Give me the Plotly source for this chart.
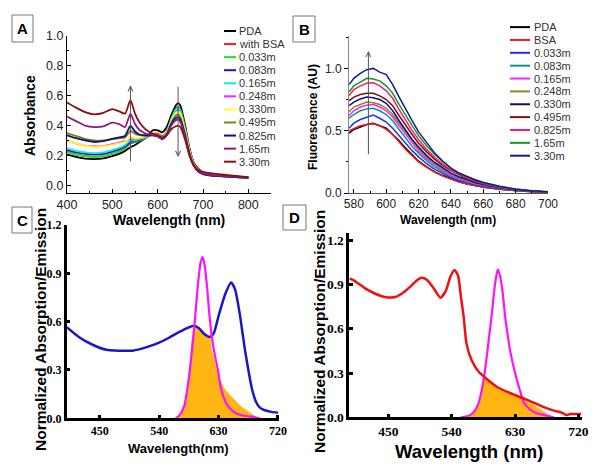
import plotly.graph_objects as go

W, H = 600, 466
SANS = "Liberation Sans, Arial, sans-serif"
SERIF = "Liberation Serif, Times New Roman, serif"

# ---------------- panel A : absorbance ----------------
wl_a = [400, 420, 440, 460, 480, 500, 515, 528, 540, 550, 560, 575, 590, 600,
        610, 620, 630, 640, 645, 650, 660, 670, 680, 690, 700, 720, 750, 800]
abs_pda = [0.205, 0.19, 0.178, 0.175, 0.18, 0.195, 0.21, 0.23, 0.255, 0.27, 0.29, 0.32, 0.37, 0.368,
           0.355, 0.39, 0.47, 0.535, 0.55, 0.535, 0.41, 0.25, 0.15, 0.11, 0.085, 0.07, 0.063, 0.053]
abs_bsa = [0.225, 0.205, 0.195, 0.19, 0.195, 0.21, 0.225, 0.245, 0.28, 0.29, 0.30, 0.32, 0.345, 0.345,
           0.33, 0.36, 0.44, 0.51, 0.525, 0.51, 0.39, 0.24, 0.145, 0.105, 0.082, 0.068, 0.062, 0.052]
abs_0033 = [0.22, 0.205, 0.195, 0.19, 0.195, 0.21, 0.225, 0.25, 0.285, 0.29, 0.30, 0.32, 0.34, 0.34,
            0.325, 0.355, 0.44, 0.50, 0.51, 0.50, 0.38, 0.235, 0.14, 0.10, 0.08, 0.066, 0.06, 0.05]
abs_0083 = [0.235, 0.22, 0.21, 0.205, 0.21, 0.225, 0.24, 0.26, 0.29, 0.295, 0.305, 0.325, 0.34, 0.335,
            0.32, 0.35, 0.43, 0.49, 0.50, 0.49, 0.37, 0.225, 0.135, 0.095, 0.078, 0.065, 0.06, 0.05]
abs_0165 = [0.245, 0.23, 0.22, 0.215, 0.22, 0.235, 0.25, 0.27, 0.30, 0.30, 0.31, 0.325, 0.34, 0.335,
            0.32, 0.355, 0.445, 0.505, 0.516, 0.50, 0.38, 0.235, 0.14, 0.10, 0.08, 0.066, 0.06, 0.05]
abs_0248 = [0.30, 0.28, 0.265, 0.26, 0.262, 0.275, 0.285, 0.295, 0.31, 0.31, 0.315, 0.325, 0.34, 0.335,
            0.315, 0.345, 0.42, 0.465, 0.475, 0.465, 0.36, 0.225, 0.135, 0.095, 0.078, 0.066, 0.06, 0.05]
abs_0330 = [0.30, 0.28, 0.265, 0.255, 0.26, 0.27, 0.28, 0.29, 0.32, 0.315, 0.318, 0.328, 0.34, 0.335,
            0.318, 0.35, 0.43, 0.485, 0.495, 0.48, 0.37, 0.23, 0.14, 0.098, 0.08, 0.067, 0.06, 0.05]
abs_0495 = [0.35, 0.33, 0.31, 0.30, 0.30, 0.31, 0.315, 0.32, 0.365, 0.345, 0.335, 0.33, 0.335, 0.33,
            0.315, 0.345, 0.42, 0.465, 0.47, 0.455, 0.35, 0.22, 0.135, 0.095, 0.078, 0.066, 0.06, 0.05]
abs_0825 = [0.335, 0.315, 0.30, 0.29, 0.295, 0.31, 0.32, 0.33, 0.40, 0.36, 0.34, 0.335, 0.335, 0.33,
            0.31, 0.34, 0.41, 0.45, 0.455, 0.44, 0.34, 0.21, 0.13, 0.09, 0.075, 0.064, 0.058, 0.05]
abs_165 = [0.46, 0.43, 0.40, 0.39, 0.395, 0.42, 0.41, 0.39, 0.48, 0.41, 0.37, 0.345, 0.335, 0.325,
           0.31, 0.335, 0.40, 0.435, 0.44, 0.425, 0.33, 0.21, 0.13, 0.092, 0.078, 0.068, 0.062, 0.052]
abs_330 = [0.555, 0.52, 0.49, 0.475, 0.485, 0.51, 0.495, 0.48, 0.57, 0.48, 0.42, 0.37, 0.345, 0.335,
           0.32, 0.335, 0.375, 0.395, 0.40, 0.39, 0.31, 0.20, 0.13, 0.10, 0.09, 0.08, 0.07, 0.055]

abs_names = ["PDA", "with BSA", "0.033m", "0.083m", "0.165m", "0.248m", "0.330m",
             "0.495m", "0.825m", "1.65m", "3.30m"]
abs_colors = ["#000000", "#ee1c1c", "#22e022", "#1515c8", "#00f0f0", "#ff20ff", "#ffff20",
              "#808010", "#10107a", "#8a1a8a", "#8b1010"]
abs_series = [abs_pda, abs_bsa, abs_0033, abs_0083, abs_0165, abs_0248, abs_0330,
              abs_0495, abs_0825, abs_165, abs_330]

# ---------------- panel B : fluorescence ----------------
wl_b = [577, 580, 584, 588, 592, 596, 600, 604, 608, 612, 616, 620, 625, 630, 635, 640,
        645, 650, 655, 660, 670, 680, 690, 700]
fl_pda = [0.48, 0.51, 0.53, 0.55, 0.56, 0.54, 0.52, 0.47, 0.42, 0.36, 0.305, 0.255, 0.21, 0.17,
          0.14, 0.112, 0.09, 0.073, 0.06, 0.048, 0.03, 0.018, 0.01, 0.006]
fl_bsa = [0.50, 0.52, 0.54, 0.55, 0.555, 0.54, 0.51, 0.47, 0.41, 0.35, 0.30, 0.25, 0.205, 0.165,
          0.135, 0.11, 0.088, 0.072, 0.058, 0.047, 0.03, 0.018, 0.01, 0.006]
fl_0033 = [0.52, 0.56, 0.59, 0.61, 0.625, 0.60, 0.57, 0.52, 0.46, 0.40, 0.34, 0.29, 0.235, 0.19,
           0.155, 0.125, 0.10, 0.082, 0.066, 0.053, 0.033, 0.02, 0.011, 0.006]
fl_0083 = [0.60, 0.63, 0.66, 0.675, 0.68, 0.66, 0.63, 0.58, 0.51, 0.44, 0.375, 0.32, 0.26, 0.21,
           0.17, 0.138, 0.112, 0.09, 0.073, 0.059, 0.036, 0.022, 0.012, 0.007]
fl_0165 = [0.62, 0.66, 0.69, 0.705, 0.71, 0.69, 0.66, 0.61, 0.54, 0.47, 0.40, 0.34, 0.275, 0.225,
           0.18, 0.145, 0.118, 0.095, 0.077, 0.062, 0.038, 0.023, 0.013, 0.007]
fl_0248 = [0.65, 0.69, 0.71, 0.73, 0.725, 0.71, 0.68, 0.63, 0.56, 0.49, 0.42, 0.36, 0.29, 0.235,
           0.19, 0.155, 0.125, 0.10, 0.08, 0.065, 0.04, 0.024, 0.013, 0.008]
fl_0330 = [0.70, 0.73, 0.755, 0.77, 0.765, 0.75, 0.72, 0.66, 0.58, 0.50, 0.43, 0.37, 0.30, 0.245,
           0.20, 0.16, 0.13, 0.105, 0.085, 0.068, 0.042, 0.025, 0.014, 0.008]
fl_0495 = [0.74, 0.77, 0.79, 0.80, 0.80, 0.78, 0.75, 0.70, 0.62, 0.54, 0.47, 0.40, 0.33, 0.27,
           0.22, 0.18, 0.145, 0.115, 0.092, 0.074, 0.046, 0.027, 0.015, 0.009]
fl_0825 = [0.78, 0.83, 0.86, 0.88, 0.885, 0.86, 0.82, 0.76, 0.67, 0.58, 0.50, 0.43, 0.35, 0.285,
           0.23, 0.185, 0.15, 0.12, 0.095, 0.077, 0.048, 0.028, 0.016, 0.009]
fl_165 = [0.81, 0.86, 0.89, 0.92, 0.915, 0.90, 0.86, 0.80, 0.71, 0.62, 0.54, 0.46, 0.38, 0.31,
          0.25, 0.20, 0.16, 0.13, 0.105, 0.085, 0.052, 0.03, 0.017, 0.01]
fl_330 = [0.87, 0.92, 0.96, 0.99, 1.0, 0.97, 0.95, 0.87, 0.77, 0.67, 0.58, 0.49, 0.40, 0.32,
          0.255, 0.20, 0.16, 0.13, 0.105, 0.085, 0.055, 0.032, 0.018, 0.01]

fl_names = ["PDA", "BSA", "0.033m", "0.083m", "0.165m", "0.248m", "0.330m",
            "0.495m", "0.825m", "1.65m", "3.30m"]
fl_colors = ["#000000", "#ee1c1c", "#2030f0", "#10909a", "#ff20ff", "#8a8a20", "#10107a",
             "#7a1010", "#f0207a", "#109a20", "#1a1a90"]
fl_series = [fl_pda, fl_bsa, fl_0033, fl_0083, fl_0165, fl_0248, fl_0330,
             fl_0495, fl_0825, fl_165, fl_330]

# ---------------- panel C ----------------
wl_c_abs = [400, 420, 440, 460, 480, 500, 520, 540, 555, 570, 585, 593, 600, 608, 617, 623,
            630, 640, 649, 655, 662, 670, 676, 681, 687, 693, 700, 710, 720]
c_abs = [0.565, 0.50, 0.455, 0.425, 0.42, 0.42, 0.44, 0.47, 0.50, 0.535, 0.565, 0.575, 0.56,
         0.525, 0.505, 0.53, 0.635, 0.77, 0.843, 0.80, 0.65, 0.425, 0.28, 0.176, 0.10, 0.065,
         0.05, 0.04, 0.035]
wl_c_em = [565, 571, 578, 584, 590, 595, 599, 603, 606, 609, 612, 616, 620, 625, 629, 634,
           642, 650, 657, 670, 680, 692]
c_em = [0.0, 0.02, 0.075, 0.22, 0.43, 0.65, 0.84, 0.97, 1.0, 0.95, 0.84, 0.65, 0.50, 0.38,
        0.30, 0.18, 0.09, 0.05, 0.03, 0.015, 0.01, 0.0]
wl_c_ov = [564, 571, 578, 584, 588, 593, 600, 608, 617, 620, 625, 630, 640, 650, 665, 681, 689]
c_ov = [0.0, 0.03, 0.10, 0.25, 0.43, 0.574, 0.56, 0.525, 0.505, 0.425, 0.34, 0.26, 0.18,
        0.134, 0.072, 0.027, 0.0]

# ---------------- panel D ----------------
wl_d_abs = [395, 400, 415, 430, 445, 460, 470, 480, 490, 497, 505, 515, 524, 532, 538, 544,
            549, 553, 557, 561, 568, 578, 586, 604, 620, 642, 656, 670, 685, 697, 703, 708, 724]
d_abs = [0.94, 0.93, 0.88, 0.84, 0.815, 0.815, 0.84, 0.88, 0.925, 0.945, 0.93, 0.87, 0.81,
         0.86, 0.95, 0.997, 0.96, 0.82, 0.68, 0.50, 0.39, 0.31, 0.275, 0.207, 0.17, 0.128,
         0.10, 0.07, 0.045, 0.03, 0.015, 0.022, 0.022]
wl_d_em = [553, 560, 566, 572, 578, 582, 586, 590, 594, 597, 600, 603, 605.5, 608, 612, 616,
           620, 623, 630, 637, 643, 652, 662, 672, 685]
d_em = [0.0, 0.005, 0.015, 0.04, 0.095, 0.17, 0.275, 0.42, 0.58, 0.70, 0.84, 0.95, 1.0, 0.97,
        0.86, 0.68, 0.54, 0.45, 0.30, 0.18, 0.095, 0.05, 0.025, 0.015, 0.0]
wl_d_ov = [564, 572, 578, 583, 586, 595, 604, 620, 642, 655, 668, 680, 684]
d_ov = [0.0, 0.04, 0.095, 0.18, 0.275, 0.24, 0.207, 0.17, 0.128, 0.09, 0.05, 0.01, 0.0]


def px(p):
    return p / W


def py(p):
    return 1 - p / H


fig = go.Figure()

for name, color, ys in zip(abs_names, abs_colors, abs_series):
    fig.add_trace(go.Scatter(x=wl_a, y=ys, name=name, mode="lines",
                             line=dict(color=color, width=1.8, shape="spline", smoothing=0.6),
                             xaxis="x", yaxis="y"))

for name, color, ys in zip(fl_names, fl_colors, fl_series):
    fig.add_trace(go.Scatter(x=wl_b, y=ys, name=name, mode="lines",
                             line=dict(color=color, width=1.5),
                             xaxis="x2", yaxis="y2"))

ORANGE = "#ffb612"
fig.add_trace(go.Scatter(x=wl_c_ov, y=c_ov, mode="lines", fill="tozeroy", fillcolor=ORANGE,
                         line=dict(width=0, shape="spline", smoothing=0.5), xaxis="x3", yaxis="y3"))
fig.add_trace(go.Scatter(x=wl_c_abs, y=c_abs, mode="lines",
                         line=dict(color="#1a14cc", width=2.5, shape="spline", smoothing=0.6),
                         xaxis="x3", yaxis="y3"))
fig.add_trace(go.Scatter(x=wl_c_em, y=c_em, mode="lines",
                         line=dict(color="#ff10ff", width=2.2, shape="spline", smoothing=0.6),
                         xaxis="x3", yaxis="y3"))

fig.add_trace(go.Scatter(x=wl_d_ov, y=d_ov, mode="lines", fill="tozeroy", fillcolor=ORANGE,
                         line=dict(width=0, shape="spline", smoothing=0.5), xaxis="x4", yaxis="y4"))
fig.add_trace(go.Scatter(x=wl_d_em, y=d_em, mode="lines",
                         line=dict(color="#ff10ff", width=2.2, shape="spline", smoothing=0.6),
                         xaxis="x4", yaxis="y4"))
fig.add_trace(go.Scatter(x=wl_d_abs, y=d_abs, mode="lines",
                         line=dict(color="#ee1111", width=2.5, shape="spline", smoothing=0.6),
                         xaxis="x4", yaxis="y4"))

thin = dict(showgrid=False, zeroline=False, showline=True, linecolor="black", linewidth=1,
            ticks="inside", ticklen=4, tickcolor="black", mirror=False, automargin=False)
thick = dict(showgrid=False, zeroline=False, showline=True, linecolor="black", linewidth=2.5,
             ticks="inside", ticklen=4, tickwidth=2.5, tickcolor="black", mirror=False,
             automargin=False)
fa = dict(family=SANS, size=12.5, color="#222")
fb = dict(family=SANS, size=12, color="#222")
fc = dict(family=SERIF, size=12, color="black", weight="bold")
fd = dict(family=SERIF, size=13.5, color="black", weight="bold")

fig.update_layout(
    width=W, height=H, margin=dict(l=0, r=0, t=0, b=0, pad=0, autoexpand=False),
    paper_bgcolor="white", plot_bgcolor="rgba(0,0,0,0)", showlegend=False,
    xaxis=dict(thin, domain=[px(67), px(271)], range=[400, 850], anchor="y",
               tickvals=[400, 500, 600, 700, 800], tickfont=fa,
               minor=dict(ticks="inside", ticklen=2, dtick=50)),
    yaxis=dict(thin, domain=[py(193), py(36)], range=[-0.052, 1.0], anchor="x",
               tickvals=[0, 0.2, 0.4, 0.6, 0.8, 1.0], tickformat=".1f", tickfont=fa,
               minor=dict(ticks="inside", ticklen=2, dtick=0.1)),
    xaxis2=dict(thin, domain=[px(349), px(548)], range=[577, 700], anchor="y2",
                tickvals=[580, 600, 620, 640, 660, 680, 700], tickfont=fb, linecolor="#555",
                minor=dict(ticks="inside", ticklen=2, dtick=10)),
    yaxis2=dict(thin, domain=[py(193), py(36)], range=[0, 1.26], anchor="x2",
                tickvals=[0, 0.5, 1.0], tickformat=".1f", tickfont=fb, linecolor="#888",
                ticks="outside", minor=dict(ticks="outside", ticklen=2, dtick=0.25)),
    xaxis3=dict(thick, domain=[px(66.7), px(279.3)], range=[400, 722], anchor="y3",
                tickvals=[450, 540, 630, 720], tickfont=fc),
    yaxis3=dict(thick, domain=[py(418.3), py(225)], range=[0, 1.2], anchor="x3",
                tickvals=[0, 0.3, 0.6, 0.9, 1.2], tickformat=".1f", tickfont=fc),
    xaxis4=dict(thick, domain=[px(349.3), px(581.7)], range=[394.6, 724.6], anchor="y4",
                tickvals=[450, 540, 630, 720], tickfont=fd),
    yaxis4=dict(thick, domain=[py(417.3), py(233.3)], range=[0, 1.246], anchor="x4",
                tickvals=[0, 0.3, 0.6, 0.9, 1.2], tickformat=".1f", tickfont=fd),
)

ann = []
shapes = []


def text(x, y, s, size, angle=0, family=SANS, color="black", xanchor="center"):
    ann.append(dict(x=px(x), y=py(y), xref="paper", yref="paper", text=s, showarrow=False,
                    textangle=angle, xanchor=xanchor, yanchor="middle",
                    font=dict(family=family, size=size, color=color)))


# axis titles
text(30, 116, "<b>Absorbance</b>", 14, -90)
text(169, 220, "<b>Wavelength (nm)</b>", 14)
text(313, 117, "<b>Fluorescence (AU)</b>", 12, -90)
text(448, 220, "<b>Wavelength (nm)</b>", 12)
text(40, 330, "<b>Normalized Absorption/Emission</b>", 15.5, -90)
text(178, 448, "<b>Wavelength(nm)</b>", 13)
text(319, 332, "<b>Normalized Absorption/Emission</b>", 15.5, -90)
text(469, 451, "<b>Wavelength (nm)</b>", 18.5)

# panel letter boxes
for letter, x0, y0, x1, y1 in [("A", 12, 15, 33, 42), ("B", 293, 16, 315, 42),
                               ("C", 12, 207, 32, 233), ("D", 283, 205, 306, 230)]:
    shapes.append(dict(type="rect", xref="paper", yref="paper", x0=px(x0), x1=px(x1),
                       y0=py(y1), y1=py(y0), line=dict(color="#777", width=1),
                       fillcolor="white", layer="above"))
    text((x0 + x1) / 2, (y0 + y1) / 2, "<b>%s</b>" % letter, 15)

# hand-drawn compact legends
for i, (name, color) in enumerate(zip(abs_names, abs_colors)):
    yy = 31 + i * 13.07
    shapes.append(dict(type="line", xref="paper", yref="paper", x0=px(224), x1=px(236),
                       y0=py(yy), y1=py(yy), line=dict(color=color, width=2)))
    text(237, yy, name, 11, color="#333", xanchor="left")

for i, (name, color) in enumerate(zip(fl_names, fl_colors)):
    yy = 27.1 + i * 12.86
    shapes.append(dict(type="line", xref="paper", yref="paper", x0=px(510), x1=px(530),
                       y0=py(yy), y1=py(yy), line=dict(color=color, width=2)))
    text(532, yy, name, 11, color="#333", xanchor="left")

# arrows
arrow = dict(showarrow=True, arrowhead=5, arrowsize=1, arrowwidth=1, arrowcolor="#555", text="")
ann.append(dict(arrow, x=540, y=0.67, ax=540, ay=0.15, xref="x", yref="y", axref="x", ayref="y"))
ann.append(dict(arrow, x=645, y=0.19, ax=645, ay=0.67, xref="x", yref="y", axref="x", ayref="y"))
ann.append(dict(arrow, x=589, y=1.14, ax=589, ay=0.30, xref="x2", yref="y2", axref="x2", ayref="y2"))

fig.update_layout(annotations=ann, shapes=shapes)
# the page body has a default 8px margin; drop it so the figure fills the window
fig.write_html("out.html", config={"displayModeBar": False},
               post_script="document.body.style.margin='0';")
